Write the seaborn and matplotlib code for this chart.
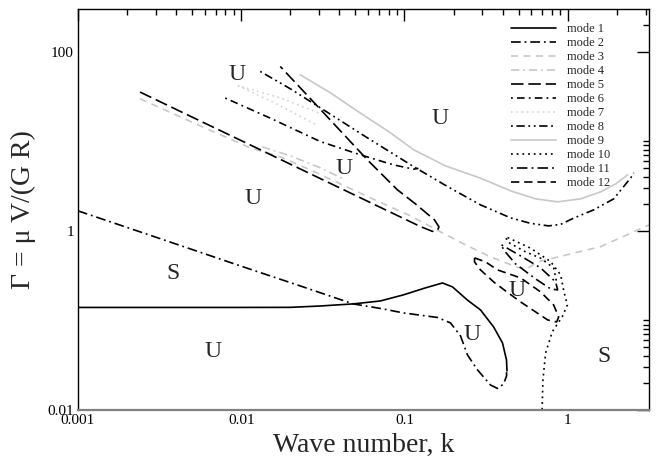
import matplotlib
matplotlib.use("Agg")
import matplotlib.pyplot as plt
import seaborn as sns
from matplotlib.ticker import FixedLocator, FixedFormatter, NullFormatter

sns.set_theme(style="white")
plt.rcParams["font.family"] = ["Liberation Serif", "DejaVu Serif"]
plt.rcParams["lines.scale_dashes"] = False

# ---- neutral-stability curves: wave number k vs. Gamma for each mode ----
k1 = [0.001, 0.01, 0.02, 0.0305, 0.0486, 0.0712, 0.0986, 0.1345, 0.171, 0.197,
      0.243, 0.2925, 0.352, 0.399, 0.422, 0.425]
g1 = [0.1397, 0.1397, 0.140, 0.145, 0.153, 0.165, 0.193, 0.231, 0.262, 0.237,
      0.169, 0.131, 0.0846, 0.056, 0.0362, 0.0273]

k2 = [0.001, 0.00318, 0.01, 0.023, 0.0486, 0.0712, 0.0986, 0.1594, 0.1915,
      0.2207, 0.2434, 0.2805, 0.337, 0.372, 0.405, 0.4224, 0.4224]
g2 = [1.673, 0.820, 0.4033, 0.2429, 0.1529, 0.1362, 0.1213, 0.108, 0.0938,
      0.0671, 0.0412, 0.028, 0.019, 0.0174, 0.0195, 0.024, 0.0295]

k3 = [0.0024, 0.0056, 0.01135, 0.01735, 0.0265, 0.0619, 0.1088, 0.1663, 0.2367,
      0.337, 0.4936, 0.568, 0.6546, 1.043, 1.594, 2.435, 3.15]
g3 = [29.85, 14.9, 8.46, 6.71, 4.80, 2.337, 1.471, 0.975, 0.698, 0.5124, 0.391,
      0.381, 0.4504, 0.5534, 0.668, 0.9425, 1.167]

k4 = [0.01345, 0.02, 0.0305, 0.0435]
g4 = [8.68, 6.89, 5.06, 3.71]

k5 = [0.0024, 0.0056, 0.01308, 0.0305, 0.0712, 0.1254, 0.1485, 0.1594, 0.1628,
      0.1528, 0.1168, 0.0906, 0.0593, 0.0337, 0.023, 0.01735]
g5 = [35.46, 16.9, 8.06, 3.84, 1.83, 1.117, 0.987, 1.013, 1.108, 1.327, 2.003,
      2.872, 6.21, 18.78, 39.6, 68.5]

k6 = [0.00798, 0.01506, 0.0305, 0.0537, 0.0856, 0.1136, 0.1219]
g6 = [30.4, 18.16, 9.95, 7.07, 5.46, 4.89, 4.99]

k7 = [0.02968, 0.01735, 0.00958, 0.0164, 0.02884]
g7 = [20.82, 30.6, 41.7, 26.24, 15.29]

k8 = [0.01308, 0.02, 0.0305, 0.0593, 0.1136, 0.1836, 0.2925, 0.4471, 0.593,
      0.7645, 0.906, 1.088, 1.444, 1.915, 2.435, 2.54]
g8 = [60.3, 38.6, 23.7, 10.94, 5.23, 3.126, 1.952, 1.397, 1.213, 1.137, 1.182,
      1.387, 1.717, 2.278, 3.91, 4.45]

k9 = [0.023, 0.0352, 0.0537, 0.0821, 0.114, 0.1784, 0.2925, 0.4471, 0.6364,
      0.8684, 1.2016, 1.594, 1.97, 2.334]
g9 = [55.3, 34.8, 20.66, 12.45, 8.04, 5.32, 3.88, 2.799, 2.278, 2.109, 2.278,
      2.728, 3.35, 4.225]

k10 = [0.6976, 0.7055, 0.7328, 0.8055, 0.9279, 0.9958, 0.949, 0.906, 0.7865,
       0.593, 0.4165, 0.4284, 0.5526, 0.683, 0.8206, 0.856]
g10 = [0.0101, 0.02164, 0.0433, 0.0749, 0.1103, 0.149, 0.2099, 0.3224, 0.4539,
       0.6408, 0.8637, 0.7535, 0.5826, 0.4955, 0.386, 0.2693]

k11 = [0.3936, 0.5148, 0.683, 0.8441, 0.8684, 0.7865, 0.6364, 0.4797, 0.405,
       0.3936]
g11 = [0.6976, 0.5256, 0.386, 0.2693, 0.2192, 0.2249, 0.2909, 0.4279, 0.6133,
       0.6976]

k12 = [0.2688, 0.314, 0.372, 0.5148, 0.683, 0.8206, 0.881, 0.856, 0.7539,
       0.6364, 0.5148, 0.4165, 0.352, 0.2925, 0.2688, 0.2688]
g12 = [0.4993, 0.4504, 0.3666, 0.2985, 0.2082, 0.149, 0.1094, 0.0962, 0.1013,
       0.1245, 0.1609, 0.2136, 0.2693, 0.3666, 0.4504, 0.4993]

mode_labels = ["mode 1", "mode 2", "mode 3", "mode 4", "mode 5", "mode 6",
               "mode 7", "mode 8", "mode 9", "mode 10", "mode 11", "mode 12"]

# stability region labels
region_text = ["U", "U", "U", "U", "S", "U", "U", "U", "S"]
region_k = [0.0094, 0.1663, 0.0424, 0.0119, 0.00381, 0.00676, 0.2602, 0.4865, 1.67]
region_g = [55.3, 18.16, 5.02, 2.278, 0.3368, 0.0448, 0.0689, 0.2136, 0.0394]

# axis ticks
xmajor = [0.001, 0.01, 0.1, 1]
xmajor_labels = ["0.001", "0.01", "0.1", "1"]
xminor = [0.002, 0.003, 0.004, 0.005, 0.006, 0.007, 0.008, 0.009,
          0.02, 0.03, 0.04, 0.05, 0.06, 0.07, 0.08, 0.09,
          0.2, 0.3, 0.4, 0.5, 0.6, 0.7, 0.8, 0.9, 2, 3]
ymajor = [0.01, 1, 100]
ymajor_labels = ["0.01", "1", "100"]
yminor = [0.02, 0.03, 0.04, 0.05, 0.06, 0.07, 0.08, 0.09, 0.1,
          2, 3, 4, 5, 6, 7, 8, 9, 10, 200]

# ---- drawing ----
black = "black"
gray = "#c8c8c8"
lw = 1.2
styles = [
    (black, "-"),
    (black, (0, (7, 2.8, 1.3, 2.8))),
    (gray, (0, (5, 4))),
    (gray, (0, (6, 2.8, 1.3, 2.8))),
    (black, (0, (9, 3.5))),
    (black, (0, (1.3, 3, 5.5, 3))),
    ("#d4d4d4", (0, (1.2, 2.6))),
    (black, (0, (1.3, 2.6, 6, 2.6, 1.3, 2.6))),
    (gray, "-"),
    (black, (0, (1.3, 2.8))),
    (black, (0, (1.3, 3, 7.5, 3))),
    (black, (0, (6, 3.5))),
]
curves = [(k1, g1), (k2, g2), (k3, g3), (k4, g4), (k5, g5), (k6, g6),
          (k7, g7), (k8, g8), (k9, g9), (k10, g10), (k11, g11), (k12, g12)]

fig = plt.figure(figsize=(6.58, 4.58), dpi=100)
ax = fig.add_axes([0.1185, 0.1048, 0.8678, 0.8755])
ax.set_facecolor("white")
ax.set_xscale("log")
ax.set_yscale("log")

for (kk, gg), (col, ls), lab in zip(curves, styles, mode_labels):
    sns.lineplot(x=kk, y=gg, sort=False, estimator=None, color=col,
                 linestyle=ls, linewidth=lw, label=lab, legend=False, ax=ax)

for s, kx, gy in zip(region_text, region_k, region_g):
    ax.text(kx, gy, s, ha="center", va="center", fontsize=17)

ax.set_xlim(0.001, 3.15)
ax.set_ylim(0.01, 300)

ax.xaxis.set_major_locator(FixedLocator(xmajor))
ax.xaxis.set_major_formatter(FixedFormatter(xmajor_labels))
ax.xaxis.set_minor_locator(FixedLocator(xminor))
ax.xaxis.set_minor_formatter(NullFormatter())
ax.yaxis.set_major_locator(FixedLocator(ymajor))
ax.yaxis.set_major_formatter(FixedFormatter(ymajor_labels))
ax.yaxis.set_minor_locator(FixedLocator(yminor))
ax.yaxis.set_minor_formatter(NullFormatter())

ax.tick_params(which="both", direction="in", top=True, right=True,
               colors="black", width=1.0, labelsize=11, pad=3)
ax.tick_params(which="major", length=8.5)
ax.tick_params(which="minor", length=4.3)
for name, sp in ax.spines.items():
    sp.set_color("black")
    sp.set_linewidth(1.0)
ax.spines["bottom"].set_color("#808080")
ax.spines["bottom"].set_linewidth(1.6)

ax.set_xlabel("Wave number, k", fontsize=20, labelpad=4)
ax.set_ylabel("Γ = μ V/(G R)", fontsize=20, labelpad=8)

ax.legend(loc="upper left", bbox_to_anchor=(0.758, 0.965), frameon=False,
          fontsize=9, handlelength=3.6, handletextpad=0.9, labelspacing=0.16,
          borderpad=0, borderaxespad=0)

fig.savefig("out.png", dpi=100)
